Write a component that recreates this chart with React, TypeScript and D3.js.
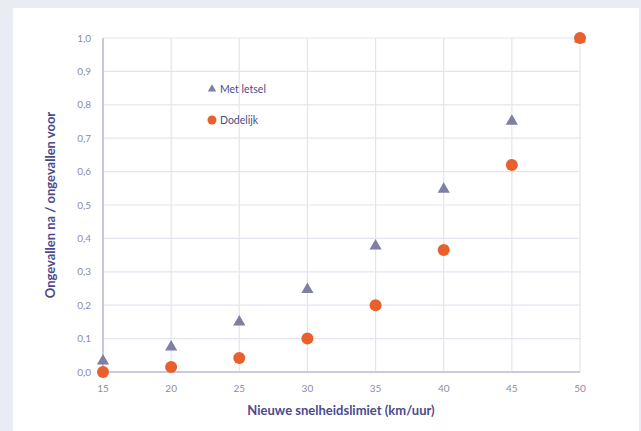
import React from "react";
import * as d3 from "d3";

const speeds = [15, 20, 25, 30, 35, 40, 45, 50];
const metLetsel = [0.036, 0.078, 0.153, 0.25, 0.38, 0.55, 0.754, 1.0];
const dodelijk = [0.0, 0.015, 0.042, 0.1, 0.2, 0.365, 0.62, 1.0];
const yTicks = [0, 0.1, 0.2, 0.3, 0.4, 0.5, 0.6, 0.7, 0.8, 0.9, 1.0];
const seriesNames = ["Met letsel", "Dodelijk"];

const W = 641;
const H = 431;
const left = 103;
const right = 580;
const top = 38;
const bottom = 372;

const TEXT = "#4b4b8c";
const TICK = "#8c8cab";
const GRID = "#e4e4ef";
const AXIS = "#bcbcd6";
const TRI = "#7f7fa6";
const DOT = "#e8612c";

export default function App() {
  const x = d3.scaleLinear().domain([15, 50]).range([left, right]);
  const y = d3.scaleLinear().domain([0, 1]).range([bottom, top]);
  const fmt = (v: number) => v.toFixed(1).replace(".", ",");
  const tri = d3.symbol().type(d3.symbolTriangle).size(64)()!;
  const font = "Lato, 'Open Sans', sans-serif";

  return (
    <svg
      width={W}
      height={H}
      style={{ position: "fixed", left: 0, top: 0, display: "block" }}
      fontFamily={font}
    >
      <rect x={0} y={0} width={W} height={H} fill="#e9ebf5" />
      <rect x={13} y={8} width={626} height={H} fill="#ffffff" />
      {yTicks.map((t) => (
        <g key={"y" + t}>
          <line x1={left} x2={right} y1={y(t)} y2={y(t)} stroke={GRID} strokeWidth={1.2} />
          <text x={left - 12} y={y(t)} dy="0.35em" textAnchor="end" fontSize={10} fill={TICK}>
            {fmt(t)}
          </text>
        </g>
      ))}
      {speeds.map((s) => (
        <g key={"x" + s}>
          <line x1={x(s)} x2={x(s)} y1={top} y2={bottom} stroke={GRID} strokeWidth={1.2} />
          <text x={x(s)} y={bottom + 20} textAnchor="middle" fontSize={10} fill={TICK}>
            {s}
          </text>
        </g>
      ))}
      <line x1={left} x2={right} y1={bottom} y2={bottom} stroke={AXIS} strokeWidth={1.5} />
      <line x1={left} x2={left} y1={top} y2={bottom} stroke={AXIS} strokeWidth={1.5} />
      {speeds.map((s, i) => (
        <path key={"t" + s} d={tri} transform={`translate(${x(s)},${y(metLetsel[i]) + 1})`} fill={TRI} />
      ))}
      {speeds.map((s, i) => (
        <circle key={"c" + s} cx={x(s)} cy={y(dodelijk[i])} r={6} fill={DOT} />
      ))}
      <path d={d3.symbol().type(d3.symbolTriangle).size(30)()!} transform="translate(212,89)" fill={TRI} />
      <text x={220} y={89} dy="0.35em" fontSize={10.5} fill={TEXT}>
        {seriesNames[0]}
      </text>
      <circle cx={212} cy={120} r={4.5} fill={DOT} />
      <text x={220} y={120} dy="0.35em" fontSize={10.5} fill={TEXT}>
        {seriesNames[1]}
      </text>
      <text
        x={341}
        y={415}
        textAnchor="middle"
        fontSize={13}
        fontWeight="bold"
        fill={TEXT}
      >
        Nieuwe snelheidslimiet (km/uur)
      </text>
      <text
        transform={`translate(55,${(top + bottom) / 2}) rotate(-90)`}
        textAnchor="middle"
        fontSize={13}
        fontWeight="bold"
        fill={TEXT}
      >
        Ongevallen na / ongevallen voor
      </text>
    </svg>
  );
}
